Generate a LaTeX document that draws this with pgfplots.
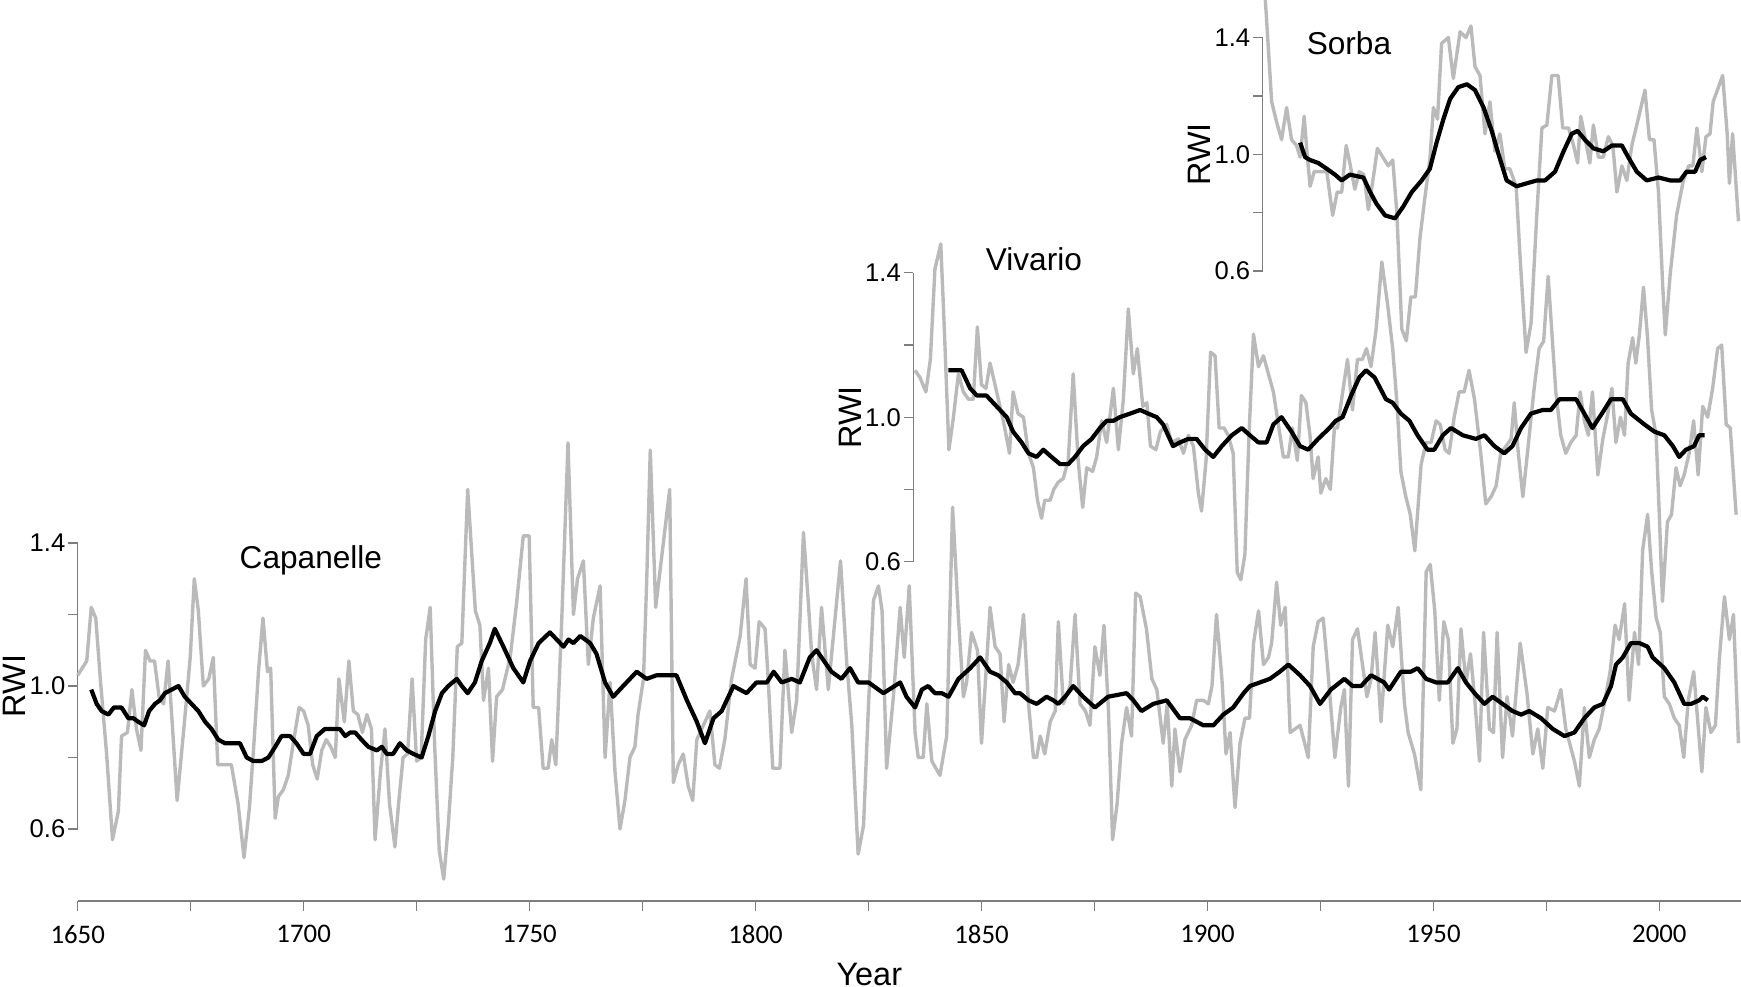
\documentclass[border=0pt]{standalone}
\usepackage{fontspec}
\setmainfont{Liberation Sans}
\newfontfamily\calibri{Carlito}
\usepackage{pgfplots}
\pgfplotsset{compat=1.18}
\definecolor{rawgray}{RGB}{186,186,186}
\definecolor{axgray}{RGB}{125,125,125}
\pgfplotsset{
  rwi/.style={
    xmax=2018, ymin=0.6, ymax=1.4,
    x=1.12975pt,
    axis x line=none, axis y line=left,
    axis line style={draw=axgray, line width=0.35pt, -},
    clip=false,
    ytick={0.6,0.8,1.0,1.2,1.4},
    yticklabels={0.6,,1.0,,1.4},
    tick align=outside,
    major tick length=2.3pt,
    every tick/.style={draw=axgray, line width=0.35pt},
    yticklabel style={font=\fontsize{6.4}{7}\selectfont, inner sep=0.6pt},
    ylabel={RWI},
    every axis y label/.style={at={([xshift=-15.8pt]axis description cs:0,0.5)}, rotate=90, anchor=center, font=\fontsize{8.1}{9}\selectfont},
    anchor=south west,
  },
  raw/.style={draw=rawgray, line width=0.85pt, line join=round},
  smo/.style={draw=black, line width=1.05pt, line join=round},
}
\begin{document}
\begin{tikzpicture}
% ---------------- x axis ----------------
\begin{axis}[at={(19.425pt,-225.25pt)}, anchor=south west,
  xmin=1650, xmax=2018, ymin=0, ymax=1, x=1.12975pt, y=10pt,
  axis x line=bottom, axis y line=none,
  axis line style={draw=axgray, line width=0.35pt, -},
  xtick={1650,1675,...,2000},
  xticklabels={1650,,1700,,1750,,1800,,1850,,1900,,1950,,2000},
  tick align=outside, major tick length=2.5pt,
  every tick/.style={draw=axgray, line width=0.35pt},
  xticklabel style={font=\calibri\fontsize{6.7}{7}\selectfont},
  xlabel={Year},
  every axis x label/.style={at={(axis description cs:0.476,0)}, anchor=base, yshift=-21pt, font=\fontsize{8.1}{9}\selectfont},
]
\addplot[draw=none] coordinates {(1650,0)};
\end{axis}
% ---------------- Capanelle ----------------
\begin{axis}[rwi, at={(19.425pt,-207.25pt)}, xmin=1650, y=89.375pt]
\addplot[raw] coordinates {(1650,1.03)(1652,1.07)(1653,1.22)(1654,1.19)(1655,1.02)(1656.4,0.81)(1657.7,0.57)(1659,0.65)(1659.7,0.86)(1661,0.87)(1662,0.99)(1663,0.88)(1664,0.82)(1665,1.10)(1666,1.07)(1667,1.07)(1668,0.97)(1669,0.95)(1670,1.07)(1671,0.88)(1672,0.68)(1673.7,0.91)(1674.9,1.08)(1675.8,1.30)(1676.7,1.21)(1677.8,1.00)(1679,1.02)(1680,1.08)(1681,0.78)(1682.6,0.78)(1684,0.78)(1685.5,0.67)(1686.8,0.52)(1688,0.66)(1689,0.84)(1690,1.04)(1691,1.19)(1692,1.04)(1692.7,1.05)(1693.7,0.63)(1694.4,0.69)(1695.5,0.71)(1696.6,0.75)(1697.7,0.84)(1699,0.94)(1700,0.93)(1701,0.89)(1702,0.78)(1703,0.74)(1704,0.82)(1705,0.85)(1706,0.83)(1707,0.80)(1707.8,1.02)(1709,0.90)(1710,1.07)(1711,0.93)(1712,0.92)(1713,0.87)(1714,0.92)(1715,0.88)(1715.8,0.57)(1717,0.76)(1718,0.88)(1719,0.67)(1720.2,0.55)(1721,0.67)(1722,0.80)(1723,0.81)(1724,1.02)(1725,0.79)(1726,0.80)(1727,1.13)(1728,1.22)(1729,0.83)(1730,0.54)(1731,0.46)(1732,0.61)(1733,0.80)(1734,1.11)(1735,1.12)(1736.3,1.55)(1738,1.21)(1739,1.17)(1739.8,0.96)(1740.9,1.05)(1741.8,0.79)(1742.7,0.97)(1744,0.99)(1745.7,1.08)(1747.1,1.23)(1748.6,1.42)(1749.9,1.42)(1750.8,0.94)(1752,0.94)(1753,0.77)(1754.1,0.77)(1754.9,0.85)(1755.8,0.78)(1757.1,1.18)(1758.5,1.68)(1759.7,1.20)(1760.6,1.30)(1761.9,1.35)(1763,1.06)(1764.1,1.19)(1765.6,1.28)(1766.7,0.80)(1767.8,1.01)(1768.9,0.76)(1770,0.60)(1771.1,0.68)(1772.2,0.80)(1773.3,0.83)(1774,0.92)(1775.2,1.02)(1775.9,1.29)(1776.7,1.66)(1777.9,1.22)(1781,1.55)(1781.8,0.73)(1782.9,0.78)(1784,0.81)(1785.1,0.72)(1786.1,0.68)(1787,0.85)(1789.9,0.93)(1791,0.78)(1792,0.77)(1793.2,0.85)(1794.7,1.02)(1796.6,1.14)(1797.9,1.30)(1798.8,1.06)(1799.9,1.05)(1800.8,1.18)(1802.1,1.16)(1802.8,1.02)(1803.8,0.77)(1805.4,0.77)(1806.5,1.10)(1808,0.87)(1809.1,0.96)(1810.6,1.43)(1811.7,1.23)(1812.4,1.09)(1813.5,0.99)(1814.6,1.22)(1816.1,0.99)(1817.6,1.19)(1818.8,1.35)(1820.2,1.06)(1821.3,0.89)(1822.7,0.53)(1823.9,0.61)(1825,0.95)(1826.1,1.24)(1827.2,1.28)(1828,1.21)(1829,0.77)(1830.5,0.97)(1832,1.22)(1832.9,1.08)(1834,1.28)(1835.3,0.87)(1836,0.80)(1837.1,0.80)(1837.9,0.95)(1839,0.79)(1840.8,0.75)(1842.3,0.86)(1843.6,1.50)(1844.9,1.19)(1846,0.97)(1846.7,1.01)(1847.8,1.15)(1849.1,1.10)(1850,0.84)(1851,1.04)(1851.9,1.22)(1853,1.11)(1854.1,1.09)(1855,0.90)(1856,1.06)(1857,1.01)(1858.1,1.06)(1859.3,1.20)(1860.4,0.95)(1861.5,0.80)(1862.2,0.80)(1863,0.86)(1864,0.81)(1865.2,0.90)(1866.3,0.93)(1867,1.18)(1868.1,0.95)(1869.6,1.00)(1870.7,1.20)(1871.8,0.95)(1873,0.93)(1874,0.89)(1875.1,1.11)(1876.2,1.03)(1877.1,1.17)(1878.1,0.93)(1879,0.57)(1880,0.67)(1881,0.84)(1882.1,0.94)(1883.2,0.86)(1884.1,1.26)(1885.1,1.25)(1886.5,1.16)(1887.7,1.02)(1888.8,0.99)(1890.2,0.84)(1891.1,0.95)(1892.1,0.72)(1892.8,0.88)(1893.9,0.76)(1895,0.85)(1896.5,0.89)(1897.6,0.96)(1899.1,0.96)(1900.2,0.95)(1901,1.00)(1902,1.20)(1903.2,1.02)(1904.1,0.81)(1905,0.87)(1906.1,0.66)(1907.2,0.84)(1908.3,0.91)(1909.3,0.91)(1910.2,1.12)(1911.3,1.21)(1912.4,1.06)(1913.5,1.08)(1914.2,1.12)(1915.3,1.29)(1916.2,1.17)(1917.2,1.22)(1918.3,0.87)(1919.4,0.88)(1920.5,0.89)(1922.3,0.80)(1923.4,1.11)(1924.5,1.18)(1925.6,1.19)(1926.6,1.05)(1928.2,0.80)(1929.5,0.94)(1930.3,0.99)(1931.2,0.72)(1932.1,1.13)(1933.2,1.16)(1934.3,1.06)(1935.3,0.97)(1936.2,1.02)(1937.1,1.15)(1938.4,0.90)(1939.9,1.17)(1941,1.11)(1942.2,1.22)(1943.6,0.95)(1944.4,0.87)(1945.8,0.81)(1947.2,0.71)(1948.4,1.32)(1949.3,1.34)(1950.3,1.21)(1951.3,0.96)(1952.3,1.18)(1953.3,1.13)(1954.3,0.84)(1955.2,0.88)(1956.1,1.16)(1957.2,1.01)(1958.2,1.09)(1959.1,0.97)(1960.2,0.79)(1961.1,1.15)(1962.4,0.88)(1963.3,0.87)(1964.1,1.15)(1965.3,0.80)(1966.3,0.97)(1967.5,0.86)(1969.2,1.12)(1970.7,0.98)(1972,0.81)(1973.1,0.88)(1974.2,0.77)(1975.3,0.94)(1976.8,0.93)(1978.2,0.99)(1979.3,0.88)(1981.2,0.79)(1982.3,0.72)(1983.4,0.94)(1984.5,0.80)(1985.6,0.85)(1986.7,0.88)(1987.8,0.95)(1989.1,1.04)(1990.2,1.17)(1991.1,1.13)(1992.3,1.23)(1993.3,0.96)(1994.5,1.15)(1995.4,1.06)(1996.3,1.38)(1997.4,1.48)(1998.3,1.32)(1999.3,1.19)(2000.2,1.15)(2001.1,0.97)(2002.2,0.95)(2003.3,0.91)(2004.4,0.89)(2005.4,0.80)(2006.4,0.96)(2007.6,1.04)(2008.5,0.90)(2009.4,0.76)(2010.3,0.94)(2011.4,0.87)(2012.4,0.89)(2013.3,1.08)(2014.4,1.25)(2015.5,1.13)(2016.4,1.20)(2017.5,0.84)};
\addplot[smo] coordinates {(1653,0.99)(1654.2,0.95)(1655.3,0.93)(1656.8,0.92)(1658,0.94)(1659.7,0.94)(1661.2,0.91)(1662.3,0.91)(1663.4,0.90)(1664.7,0.89)(1665.8,0.93)(1667.1,0.95)(1668.2,0.96)(1669.3,0.98)(1670.8,0.99)(1672.3,1.00)(1673.7,0.97)(1675.2,0.95)(1676.7,0.93)(1678.2,0.90)(1679.6,0.88)(1681.1,0.85)(1682.6,0.84)(1684.4,0.84)(1685.9,0.84)(1687.4,0.80)(1688.9,0.79)(1690.7,0.79)(1692.2,0.80)(1693.7,0.83)(1695.1,0.86)(1697,0.86)(1698.4,0.84)(1700,0.81)(1701.4,0.81)(1702.9,0.86)(1704.7,0.88)(1706.6,0.88)(1708,0.88)(1709.2,0.86)(1710.3,0.87)(1711.4,0.87)(1712.8,0.85)(1714.3,0.83)(1716.2,0.82)(1717.3,0.83)(1718.4,0.81)(1719.8,0.81)(1721.3,0.84)(1722.8,0.82)(1724.3,0.81)(1726.1,0.80)(1727.6,0.86)(1729.1,0.93)(1730.6,0.98)(1732,1.00)(1733.9,1.02)(1735,1.00)(1736.3,0.98)(1737.9,1.01)(1739.4,1.07)(1741.2,1.12)(1742.3,1.16)(1744.2,1.11)(1746.4,1.05)(1748.6,1.01)(1750.1,1.07)(1752,1.12)(1754.5,1.15)(1757.5,1.11)(1758.6,1.13)(1759.7,1.12)(1761.2,1.14)(1763.4,1.12)(1764.8,1.09)(1766.7,1.01)(1768.5,0.97)(1770.7,1.00)(1773.7,1.04)(1775.9,1.02)(1778.1,1.03)(1782.5,1.03)(1784.8,0.96)(1787,0.90)(1788.8,0.84)(1790.7,0.91)(1792.5,0.93)(1795.1,1.00)(1798,0.98)(1800.2,1.01)(1802.5,1.01)(1804,1.04)(1805.8,1.01)(1808,1.02)(1809.8,1.01)(1812,1.08)(1813.5,1.10)(1816.8,1.04)(1819,1.02)(1820.9,1.05)(1822.7,1.01)(1825,1.01)(1828.3,0.98)(1832,1.01)(1833.4,0.97)(1835.3,0.94)(1836.8,0.99)(1838.2,1.00)(1839.7,0.98)(1841.2,0.98)(1842.7,0.97)(1844.9,1.02)(1847.5,1.05)(1849.7,1.08)(1851.9,1.04)(1853.7,1.03)(1855.6,1.01)(1857.4,0.98)(1858.5,0.98)(1860.4,0.96)(1862.2,0.95)(1864.4,0.97)(1865.9,0.96)(1867,0.95)(1868.5,0.97)(1870.3,1.00)(1872.5,0.97)(1875.1,0.94)(1878,0.97)(1882.1,0.98)(1883.6,0.96)(1885.4,0.93)(1888,0.95)(1891,0.96)(1893.9,0.91)(1896.1,0.91)(1899.1,0.89)(1901.3,0.89)(1903.5,0.92)(1905.7,0.94)(1908,0.98)(1909.4,1.00)(1911.6,1.01)(1913.8,1.02)(1916,1.04)(1917.9,1.06)(1920.5,1.03)(1922.7,1.00)(1924.9,0.95)(1927.3,0.99)(1930.3,1.02)(1932.1,1.00)(1934,1.00)(1936.2,1.03)(1939.1,1.01)(1940.2,0.99)(1942.8,1.04)(1945,1.04)(1946.5,1.05)(1948.4,1.02)(1950.6,1.01)(1953.2,1.01)(1955.4,1.05)(1957.2,1.01)(1959.1,0.98)(1961.3,0.95)(1963.1,0.97)(1965.3,0.95)(1967.5,0.93)(1969.4,0.92)(1971.2,0.93)(1973.8,0.91)(1976.4,0.88)(1979,0.86)(1981.2,0.87)(1983.4,0.91)(1985.6,0.94)(1987.5,0.95)(1989.3,1.00)(1990.4,1.06)(1991.9,1.08)(1993.7,1.12)(1995.6,1.12)(1997.4,1.11)(1998.5,1.08)(2001.1,1.05)(2003.3,1.01)(2005.5,0.95)(2007,0.95)(2008.8,0.96)(2009.6,0.97)(2010.7,0.96)};
\node[font=\fontsize{7.9}{9}\selectfont, anchor=base] at (axis cs:1701.6,1.329) {Capanelle};
\end{axis}
% ---------------- Vivario ----------------
\begin{axis}[rwi, at={(228.3pt,-140.4pt)}, xmin=1834.9, y=90.25pt]
\addplot[raw] coordinates {(1835.3,1.13)(1836.4,1.11)(1837.7,1.07)(1838.7,1.16)(1839.7,1.41)(1841,1.48)(1841.8,1.24)(1842.8,0.91)(1843.8,1.00)(1844.9,1.12)(1846,1.07)(1847.1,1.05)(1848.2,1.05)(1849.1,1.25)(1850,1.09)(1851,1.08)(1851.9,1.15)(1853,1.09)(1854.1,1.03)(1855,0.98)(1856.2,0.90)(1857,1.07)(1858.1,1.01)(1859.3,1.00)(1860.4,0.90)(1861.5,0.86)(1862.4,0.77)(1863.3,0.72)(1864,0.77)(1865.2,0.77)(1866,0.80)(1867,0.82)(1868.1,0.83)(1869.2,0.88)(1870.3,1.12)(1871.4,0.88)(1872.4,0.75)(1873.3,0.86)(1874.6,0.85)(1875.5,0.89)(1876.6,0.99)(1877.7,0.93)(1879.2,1.08)(1880.3,0.91)(1881.4,1.05)(1882.5,1.30)(1883.6,1.12)(1884.5,1.19)(1885.7,1.03)(1886.6,1.04)(1887.4,0.92)(1888.6,0.91)(1889.6,0.96)(1891,0.98)(1892.1,0.93)(1893.6,0.94)(1894.7,0.90)(1895.8,0.95)(1896.9,0.92)(1898,0.79)(1898.7,0.74)(1899.7,0.88)(1900.7,1.18)(1901.7,1.17)(1902.6,0.97)(1903.7,0.97)(1904.6,0.95)(1905.7,0.90)(1906.6,0.57)(1907.4,0.55)(1908.3,0.62)(1909.2,0.95)(1910.2,1.23)(1911.3,1.14)(1912.4,1.17)(1913.5,1.12)(1914.6,1.07)(1915.7,0.98)(1916.8,0.89)(1917.9,0.89)(1918.8,0.97)(1919.9,0.88)(1920.8,1.06)(1921.8,1.04)(1922.7,0.95)(1923.4,0.83)(1924.5,0.89)(1925.1,0.79)(1926.2,0.83)(1927.2,0.80)(1928.1,0.97)(1928.8,0.97)(1929.7,1.05)(1931,1.16)(1932.1,1.02)(1933.2,1.16)(1934.3,1.16)(1935.2,1.19)(1936.2,1.14)(1937.3,1.24)(1938.6,1.43)(1939.9,1.31)(1941,1.19)(1942,1.03)(1942.8,0.85)(1943.9,0.78)(1944.9,0.73)(1945.9,0.63)(1947.3,0.87)(1948.4,0.93)(1949.5,0.93)(1950.6,0.99)(1951.5,0.98)(1952.6,0.91)(1953.5,0.90)(1954.6,1.00)(1955.7,1.07)(1956.8,1.07)(1957.9,1.13)(1959.1,1.05)(1960.4,0.91)(1961.6,0.76)(1962.8,0.78)(1963.9,0.81)(1964.9,0.90)(1966.1,0.92)(1967.2,0.94)(1967.9,1.04)(1968.8,0.90)(1969.8,0.78)(1970.9,0.91)(1972.3,1.08)(1973.4,1.19)(1974.4,1.21)(1975.4,1.39)(1976.2,1.24)(1977.1,1.07)(1978.2,0.95)(1979.3,0.90)(1980.4,0.93)(1981.6,0.95)(1982.5,1.07)(1983.4,0.99)(1984.3,0.95)(1985.2,1.07)(1986.4,0.84)(1987.5,0.94)(1988.6,1.01)(1989.5,1.08)(1990.4,0.93)(1991.4,1.00)(1992.3,0.95)(1993.1,1.15)(1994.1,1.22)(1994.8,1.15)(1995.6,1.23)(1996.5,1.36)(1997.4,1.22)(1998.3,1.02)(1999.3,0.95)(2000,0.73)(2000.7,0.49)(2001.8,0.71)(2002.7,0.73)(2003.7,0.86)(2004.6,0.81)(2005.5,0.84)(2006.6,0.90)(2007.6,0.99)(2008.6,0.84)(2009.6,1.03)(2010.7,1.00)(2011.8,1.08)(2012.9,1.19)(2013.8,1.20)(2014.8,0.98)(2015.7,0.97)(2017,0.73)};
\addplot[smo] coordinates {(1842.7,1.13)(1844.1,1.13)(1845.6,1.13)(1847.5,1.08)(1849,1.06)(1851.1,1.06)(1852.6,1.04)(1854.1,1.02)(1855.6,1.00)(1857,0.96)(1858.9,0.93)(1860.4,0.90)(1862.2,0.89)(1863.7,0.91)(1865.5,0.89)(1867.4,0.87)(1869.2,0.87)(1870.7,0.89)(1872.5,0.92)(1874.4,0.94)(1876.2,0.97)(1877.7,0.99)(1879.2,0.99)(1880.6,1.00)(1882.9,1.01)(1885.1,1.02)(1886.9,1.01)(1888.8,1.00)(1890.2,0.98)(1892.4,0.92)(1893.9,0.93)(1895.8,0.94)(1897.6,0.94)(1899.5,0.91)(1901.3,0.89)(1903.2,0.92)(1905.4,0.95)(1907.6,0.97)(1909.4,0.95)(1911.3,0.93)(1913.1,0.93)(1914.6,0.98)(1916.4,1.00)(1918.6,0.96)(1920.5,0.92)(1922.3,0.91)(1924.5,0.94)(1927,0.97)(1928.4,0.99)(1929.9,1.00)(1931.8,1.06)(1933.6,1.11)(1935.1,1.13)(1937,1.11)(1939.5,1.05)(1941,1.04)(1942.8,1.01)(1944.7,0.99)(1946.5,0.95)(1948.7,0.91)(1950.2,0.91)(1952.1,0.95)(1953.9,0.97)(1956.5,0.95)(1959.4,0.94)(1961.3,0.95)(1963.5,0.92)(1965.7,0.90)(1967.5,0.92)(1969.4,0.97)(1971.6,1.01)(1974.2,1.02)(1976,1.02)(1977.9,1.05)(1981.6,1.05)(1983.4,1.01)(1985.2,0.97)(1987.8,1.02)(1989.3,1.05)(1991.9,1.05)(1993.7,1.01)(1996.7,0.98)(1998.9,0.96)(2001.1,0.95)(2003,0.92)(2004.4,0.89)(2005.9,0.91)(2007.7,0.92)(2008.8,0.95)(2010,0.95)};
\node[font=\fontsize{7.9}{9}\selectfont, anchor=base] at (axis cs:1861.6,1.407) {Vivario};
\end{axis}
% ---------------- Sorba ----------------
\begin{axis}[rwi, at={(315.65pt,-67.7pt)}, xmin=1912.2, y=72.875pt]
\addplot[raw] coordinates {(1912.8,1.53)(1914.2,1.18)(1915.3,1.11)(1916.4,1.05)(1917.5,1.16)(1918.6,1.05)(1919.7,1.03)(1920.5,0.99)(1921.4,1.13)(1922,1.01)(1922.7,0.89)(1923.6,0.94)(1924.9,0.94)(1926.4,0.94)(1927.7,0.79)(1928.7,0.87)(1929.7,0.87)(1930.7,1.03)(1931.5,0.97)(1932.6,0.88)(1933.6,0.94)(1934.6,0.93)(1935.6,0.81)(1936.6,0.91)(1937.6,1.02)(1938.8,0.99)(1940,0.96)(1941,0.98)(1941.9,0.80)(1943,0.40)(1944,0.36)(1945,0.51)(1946,0.51)(1947,0.71)(1948.1,0.85)(1949.2,0.98)(1950,1.16)(1950.9,1.12)(1951.8,1.38)(1953.3,1.40)(1954.4,1.26)(1955.9,1.42)(1957.2,1.40)(1958.3,1.44)(1959.2,1.30)(1960.3,1.27)(1961.4,1.07)(1962.5,1.18)(1963.6,1.01)(1964.7,1.07)(1965.8,0.95)(1966.9,0.95)(1968.3,0.89)(1969.2,0.64)(1970.5,0.32)(1971.6,0.42)(1972.9,0.80)(1974,1.09)(1975.1,1.10)(1976.2,1.27)(1977.6,1.27)(1978.6,1.09)(1979.9,1.09)(1981,1.03)(1981.9,0.97)(1982.6,1.13)(1983.5,1.06)(1984.6,0.97)(1985.4,1.10)(1986.5,0.99)(1987.6,0.99)(1988.7,1.06)(1989.7,1.03)(1990.6,0.87)(1991.7,0.96)(1992.8,0.91)(1993.9,1.03)(1995.3,1.12)(1996.8,1.22)(1997.8,1.05)(1998.8,1.05)(1999.8,0.87)(2000.7,0.56)(2001.3,0.38)(2002.4,0.59)(2003.8,0.79)(2005.3,0.91)(2006.5,0.96)(2007.4,0.96)(2008.3,1.09)(2009.4,0.94)(2010.3,1.06)(2011.2,1.07)(2011.9,1.18)(2014,1.27)(2015,1.07)(2015.5,0.90)(2016.2,1.07)(2017.5,0.77)};
\addplot[smo] coordinates {(1920.5,1.04)(1921.6,0.99)(1922.7,0.98)(1924.5,0.97)(1926.4,0.95)(1928.2,0.93)(1929.7,0.91)(1931.5,0.93)(1934.5,0.92)(1936,0.87)(1937.4,0.83)(1939.3,0.79)(1941.5,0.78)(1943.3,0.82)(1945.2,0.87)(1947.4,0.91)(1949.2,0.95)(1950.7,1.04)(1952.2,1.12)(1953.7,1.19)(1955.5,1.23)(1957.4,1.24)(1959.2,1.22)(1961.1,1.16)(1962.9,1.08)(1964.4,1.00)(1966.2,0.91)(1968.4,0.89)(1970.6,0.90)(1972.9,0.91)(1974.7,0.91)(1976.9,0.94)(1978.8,1.01)(1980.6,1.07)(1981.9,1.08)(1983.5,1.05)(1985.4,1.02)(1987.6,1.01)(1989.5,1.03)(1991.7,1.03)(1993.1,0.99)(1995,0.94)(1997.2,0.91)(1999.8,0.92)(2002.4,0.91)(2004.6,0.91)(2006,0.94)(2007.9,0.94)(2009,0.98)(2010.3,0.99)};
\node[font=\fontsize{7.9}{9}\selectfont, anchor=base] at (axis cs:1931.3,1.343) {Sorba};
\end{axis}
\pgfresetboundingbox
\useasboundingbox (0pt,0pt) rectangle (435.25pt,-246.5pt);
\end{tikzpicture}
\end{document}
